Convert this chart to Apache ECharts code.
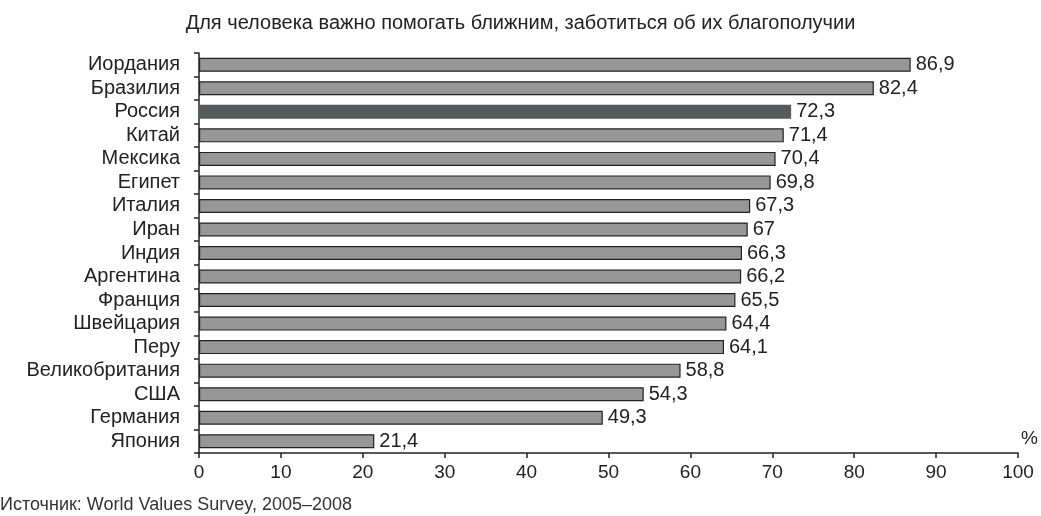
<!DOCTYPE html>
<html>
<head>
<meta charset="utf-8">
<script src="https://cdn.jsdelivr.net/npm/echarts@6/dist/echarts.min.js"></script>
<style>
  html, body { margin: 0; padding: 0; background: #fff; }
  #chart { width: 1041px; height: 516px; }
</style>
</head>
<body>
<div id="chart"></div>
<script>
  // Страны сверху вниз, как на картинке
  const countries = [
    'Иордания', 'Бразилия', 'Россия', 'Китай', 'Мексика', 'Египет', 'Италия',
    'Иран', 'Индия', 'Аргентина', 'Франция', 'Швейцария', 'Перу',
    'Великобритания', 'США', 'Германия', 'Япония'
  ];
  const values = [86.9, 82.4, 72.3, 71.4, 70.4, 69.8, 67.3, 67, 66.3, 66.2, 65.5, 64.4, 64.1, 58.8, 54.3, 49.3, 21.4];
  const highlight = 'Россия';

  const font = 'Arial, "Liberation Sans", sans-serif';
  const chart = echarts.init(document.getElementById('chart'));

  chart.setOption({
    backgroundColor: '#fff',
    animation: false,
    title: {
      text: 'Для человека важно помогать ближним, заботиться об их благополучии',
      left: 'center',
      top: 8,
      textStyle: { fontFamily: font, fontSize: 20, fontWeight: 'normal', color: '#222' }
    },
    graphic: [
      {
        type: 'text',
        left: 0,
        top: 496,
        style: { text: 'Источник: World Values Survey, 2005–2008', fontFamily: font, fontSize: 18, fill: '#333' }
      },
      {
        type: 'text',
        left: 1021,
        top: 429,
        style: { text: '%', fontFamily: font, fontSize: 19, fill: '#222' }
      }
    ],
    grid: { left: 199, right: 23, top: 53, bottom: 63, containLabel: false },
    xAxis: {
      type: 'value',
      min: 0,
      max: 100,
      interval: 10,
      splitLine: { show: false },
      axisLine: { show: true, lineStyle: { color: '#222', width: 1.5 } },
      axisTick: { show: true, length: 5, lineStyle: { color: '#222', width: 1.5 } },
      axisLabel: { fontFamily: font, fontSize: 19, color: '#222', margin: 10 }
    },
    yAxis: {
      type: 'category',
      inverse: true,
      data: countries,
      axisLine: { show: true, lineStyle: { color: '#222', width: 1.5 } },
      axisTick: { show: true, length: 5, interval: 0, lineStyle: { color: '#222', width: 1.5 } },
      axisLabel: { fontFamily: font, fontSize: 20, color: '#222', margin: 19, interval: 0, lineHeight: 20 }
    },
    series: [{
      type: 'bar',
      barWidth: 14,
      data: values.map((v, i) => {
        if (countries[i] === highlight) {
          return { value: v, itemStyle: { color: '#58595b', borderWidth: 0 } };
        }
        return v;
      }),
      itemStyle: { color: '#979797', borderColor: '#222', borderWidth: 1.2 },
      label: {
        show: true,
        position: 'right',
        distance: 5,
        fontFamily: font,
        fontSize: 20,
        color: '#222',
        formatter: p => String(p.value).replace('.', ',')
      }
    }]
  });
</script>
</body>
</html>
